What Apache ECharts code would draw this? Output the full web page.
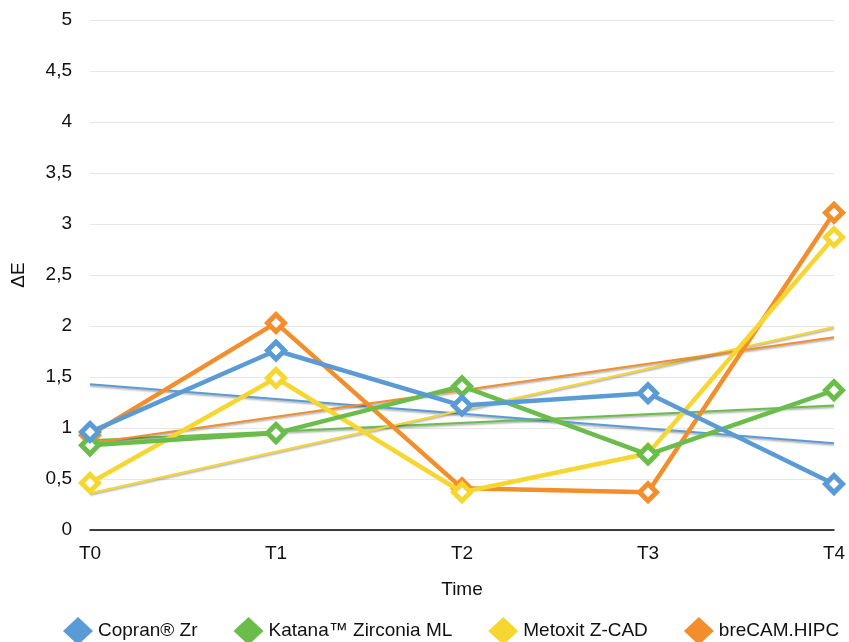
<!DOCTYPE html>
<html><head><meta charset="utf-8">
<script src="https://cdn.jsdelivr.net/npm/echarts@6/dist/echarts.min.js"></script>
<style>html,body{margin:0;padding:0;background:#fff}#c{width:849px;height:642px}</style>
</head><body><div id="c"></div>
<script>
const categories = ['T0','T1','T2','T3','T4'];
const seriesNames = ['Copran® Zr','Katana™ Zirconia ML','Metoxit Z-CAD','breCAM.HIPC'];
const copran  = [0.96, 1.76, 1.22, 1.34, 0.45];
const katana  = [0.83, 0.95, 1.41, 0.74, 1.37];
const metoxit = [0.46, 1.49, 0.37, 0.75, 2.87];
const brecam  = [0.93, 2.03, 0.41, 0.37, 3.11];
// trend line endpoints (T0, T4)
const copranTrend  = [1.43, 0.85];
const katanaTrend  = [0.88, 1.22];
const metoxitTrend = [0.36, 1.99];
const brecamTrend  = [0.85, 1.89];
const yTicks = [0,0.5,1,1.5,2,2.5,3,3.5,4,4.5,5];

const colors = ['#5B9BD5','#6ABD4B','#F6D630','#F28E2C'];
const mains = [copran, katana, metoxit, brecam];
const trends = [copranTrend, katanaTrend, metoxitTrend, brecamTrend];
const zOrder = [8, 7, 6, 5];

const series = [];
trends.forEach((t,i)=>{
  series.push({
    name: seriesNames[i]+' trend', type:'line', data:[t[0],null,null,null,t[1]],
    connectNulls:true, symbol:'none', silent:true, z:1,
    lineStyle:{color:colors[i], width:2, shadowColor:'rgba(0,0,0,0.35)', shadowBlur:2, shadowOffsetY:1.5}
  });
});
mains.forEach((d,i)=>{
  series.push({
    name: seriesNames[i], type:'line', data:d, z:zOrder[i],
    symbol:'diamond', symbolSize:17,
    lineStyle:{color:colors[i], width:4.5},
    itemStyle:{color:'#fff', borderColor:colors[i], borderWidth:5}
  });
});

const chart = echarts.init(document.getElementById('c'));
chart.setOption({
  animation:false,
  textStyle:{fontFamily:'Liberation Sans, Arial, sans-serif'},
  grid:{left:90, right:15, top:20, bottom:112, containLabel:false},
  legend:{
    bottom:-3, left:63, width:820, icon:'diamond', itemWidth:30, itemHeight:28, itemGap:36,
    padding:0,
    textStyle:{fontSize:19, color:'#111', fontFamily:'Liberation Sans, Arial, sans-serif'},
    data: seriesNames.map((n,i)=>({name:n, itemStyle:{color:colors[i], borderWidth:0}}))
  },
  xAxis:{
    type:'category', data:categories, boundaryGap:false,
    name:'Time', nameLocation:'middle', nameGap:50,
    nameTextStyle:{fontSize:19, color:'#111'},
    axisLine:{lineStyle:{color:'#000', width:1.5}},
    axisTick:{show:false},
    axisLabel:{fontSize:19, color:'#111', margin:14},
    splitLine:{show:false}
  },
  yAxis:{
    type:'value', min:0, max:5, interval:0.5,
    name:'ΔE', nameLocation:'middle', nameGap:62, nameRotate:90,
    nameTextStyle:{fontSize:19, color:'#111'},
    axisLine:{show:false}, axisTick:{show:false},
    axisLabel:{fontSize:19, color:'#111', margin:18, formatter:v=>String(v).replace('.',',')},
    splitLine:{lineStyle:{color:'#e6e6e6', width:1}}
  },
  series: series
});
</script></body></html>
